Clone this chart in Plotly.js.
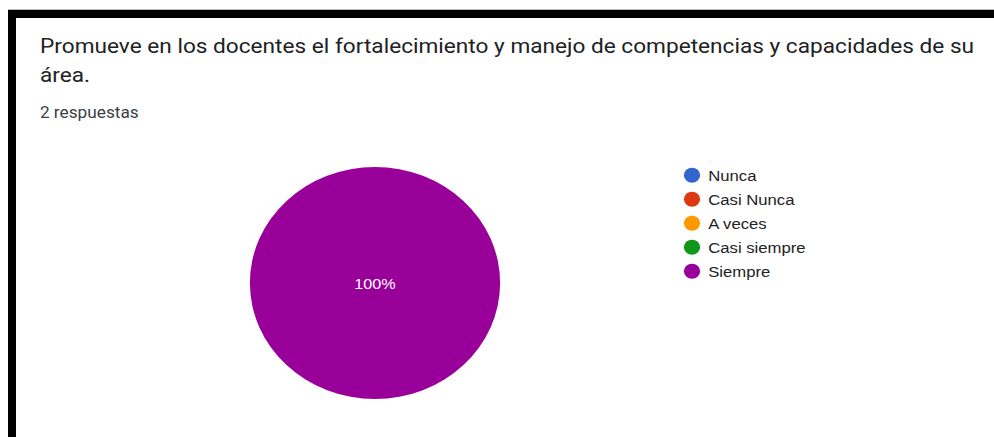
<!DOCTYPE html>
<html>
<head>
<meta charset="utf-8">
<script src="https://cdn.plot.ly/plotly-3.0.1.min.js"></script>
<style>
html,body{margin:0;padding:0;background:#fff;overflow:hidden;width:994px;height:437px;}
#chart{width:922px;height:437px;transform:scaleX(1.0781);transform-origin:0 0;}
</style>
</head>
<body>
<div id="chart"></div>
<script>
const categories = ["Nunca", "Casi Nunca", "A veces", "Casi siempre", "Siempre"];
const counts = [0, 0, 0, 0, 2];
const colors = ["#3366cc", "#dc3912", "#ff9900", "#109618", "#990099"];
const titleLine1 = "Promueve en los docentes el fortalecimiento y manejo de competencias y capacidades de su";
const titleLine2 = "área.";
const subtitle = "2 respuestas";

const VW = 994, W = 922, H = 437;
const px = v => v / VW;          // reference (stretched) pixel -> paper fraction
const pw = v => v / W;           // unstretched pixel length -> paper fraction
const py = v => 1 - v / H;

const pieTrace = {
  type: "pie",
  labels: categories,
  values: counts,
  sort: false,
  direction: "clockwise",
  marker: {colors: colors, line: {width: 0}},
  textinfo: "percent",
  texttemplate: counts.map(v => v > 0 ? "%{percent:.0%}" : ""),
  textposition: "inside",
  insidetextfont: {family: "Arial, 'Liberation Sans', sans-serif", size: 15, color: "#ffffff"},
  showlegend: false,
  hoverinfo: "label+percent",
  domain: {x: [px(375) - pw(116), px(375) + pw(116)], y: [py(399), py(167)]}
};

const legendTraces = categories.map((c, i) => ({
  type: "scatter",
  mode: "markers",
  x: [null], y: [null],
  name: c,
  legendgroup: "g" + i,
  marker: {symbol: "circle", size: 15, color: colors[i]},
  showlegend: true,
  hoverinfo: "skip"
}));

const layout = {
  width: W, height: H,
  margin: {l: 0, r: 0, t: 0, b: 0},
  paper_bgcolor: "#ffffff",
  plot_bgcolor: "rgba(0,0,0,0)",
  xaxis: {visible: false, domain: [0.9, 0.91]},
  yaxis: {visible: false, domain: [0.9, 0.91]},
  showlegend: true,
  legend: {
    x: px(692) - pw(20), y: py(158.6), xanchor: "left", yanchor: "top",
    font: {family: "Arial, 'Liberation Sans', sans-serif", size: 15.5, color: "#222222"},
    bgcolor: "rgba(0,0,0,0)", borderwidth: 0, tracegroupgap: 0.85,
    itemclick: false, itemdoubleclick: false
  },
  shapes: [
    {type: "rect", xref: "paper", yref: "paper", x0: px(8), x1: 1, y0: py(18), y1: py(10), fillcolor: "#000", line: {width: 0}, layer: "above"},
    {type: "rect", xref: "paper", yref: "paper", x0: px(8), x1: px(16), y0: 0, y1: py(10), fillcolor: "#000", line: {width: 0}, layer: "above"},
    {type: "line", xref: "paper", yref: "paper", x0: px(8), x1: 1, y0: py(9.5), y1: py(9.5), line: {color: "#bbbbbb", width: 1}}
  ],
  annotations: [
    {text: titleLine1, xref: "paper", yref: "paper", x: px(38), y: py(46), xanchor: "left", yanchor: "middle", showarrow: false,
     font: {family: "Roboto, Arial, sans-serif", size: 21, color: "#202124"}},
    {text: titleLine2, xref: "paper", yref: "paper", x: px(38), y: py(75), xanchor: "left", yanchor: "middle", showarrow: false,
     font: {family: "Roboto, Arial, sans-serif", size: 21, color: "#202124"}},
    {text: subtitle, xref: "paper", yref: "paper", x: px(38), y: py(113), xanchor: "left", yanchor: "middle", showarrow: false,
     font: {family: "Roboto, Arial, sans-serif", size: 16, color: "#3c4043"}}
  ]
};

const gd = document.getElementById("chart");
function tightenLegend() {
  gd.querySelectorAll(".legend .legendtext").forEach(el => el.setAttribute("x", 35));
}
Plotly.newPlot(gd, [pieTrace].concat(legendTraces), layout, {displayModeBar: false}).then(() => {
  tightenLegend();
  gd.on("plotly_afterplot", tightenLegend);
});
</script>
</body>
</html>
